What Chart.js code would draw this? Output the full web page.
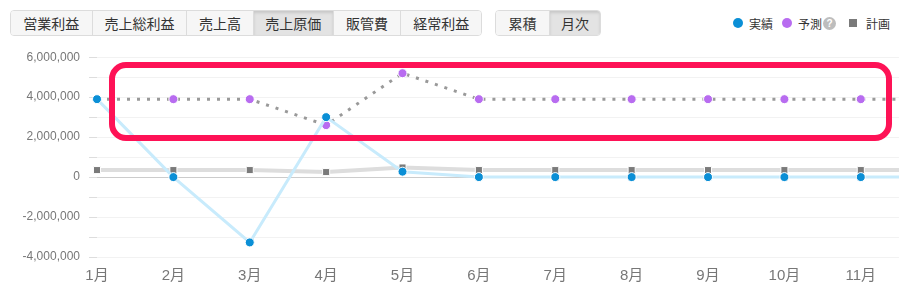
<!DOCTYPE html>
<html><head><meta charset="utf-8">
<script src="https://cdn.jsdelivr.net/npm/chart.js@4/dist/chart.umd.min.js"></script>
<style>
html,body{margin:0;padding:0;background:#fff;width:899px;height:286px;overflow:hidden;position:relative;font-family:"Noto Sans CJK JP","Liberation Sans",sans-serif;}
.grp{position:absolute;top:10px;height:26px;display:flex;border:1px solid #dcdcdc;border-radius:4px;overflow:hidden;box-sizing:border-box;}
.grp div{height:100%;line-height:24px;font-size:14px;color:#333;background:#f6f6f6;border-left:1px solid #dcdcdc;text-align:center;box-sizing:border-box;}
.grp div:first-child{border-left:none;}
.grp div.on{background:#e3e3e3;box-shadow:inset 0 2px 3px rgba(0,0,0,0.12);}
#legend{position:absolute;top:13px;left:733px;font-size:12px;color:#333;display:flex;align-items:center;height:20px;}
#legend .dot{width:10px;height:10px;border-radius:50%;display:inline-block;margin-right:6px;}
#legend .sq{width:8px;height:8px;display:inline-block;background:#7a7a7a;margin-right:9px;}
#legend .q{width:13px;height:13px;border-radius:50%;background:#bdbdbd;color:#fff;font-size:10px;line-height:13px;text-align:center;display:inline-block;margin:0 13px 0 1px;font-weight:bold;font-family:"Liberation Sans",sans-serif;}
#wrap{position:absolute;left:0;top:41px;width:963px;height:245px;}
#box{position:absolute;left:109px;top:62px;width:783px;height:79px;border:6px solid #fe1256;border-radius:17px;box-sizing:border-box;pointer-events:none;}
</style></head>
<body>
<div class="grp" style="left:10px;width:472px;">
  <div style="width:81px">営業利益</div><div style="width:95px">売上総利益</div><div style="width:67px">売上高</div><div class="on" style="width:80px">売上原価</div><div style="width:68px">販管費</div><div style="width:81px">経常利益</div>
</div>
<div class="grp" style="left:495px;width:106px;">
  <div style="width:54px">累積</div><div class="on" style="width:52px">月次</div>
</div>
<div id="legend">
  <span class="dot" style="background:#0b8fd6"></span><span style="margin-right:9px">実績</span>
  <span class="dot" style="background:#b86cf0"></span><span>予測</span><span class="q">?</span>
  <span class="sq"></span><span>計画</span>
</div>
<div id="wrap"><canvas id="c"></canvas></div>
<div id="box"></div>
<script>
const months = ['1月','2月','3月','4月','5月','6月','7月','8月','9月','10月','11月','12月'];
const actual = [3900000, 0, -3270000, 3000000, 270000, 0, 0, 0, 0, 0, 0, 0];
const forecast = [3900000, 3900000, 3900000, 2600000, 5200000, 3900000, 3900000, 3900000, 3900000, 3900000, 3900000, 3900000];
const forecastPointVisible = [false, true, true, true, true, true, true, true, true, true, true, true];
const plan = [350000, 350000, 350000, 250000, 480000, 350000, 350000, 350000, 350000, 350000, 350000, 350000];
const yMin = -4000000, yMax = 6000000, yStep = 1000000, yLabelStep = 2000000;

new Chart(document.getElementById('c'), {
  type: 'line',
  data: {
    labels: months,
    datasets: [
      {label:'実績', data: actual, order: 0, borderColor:'#c8ebfc', borderWidth:3, tension:0,
       pointRadius:4.5, pointBackgroundColor:'#0b8fd6', pointBorderColor:'#ffffff', pointBorderWidth:1},
      {label:'予測', data: forecast, order: 1, borderColor:'#999999', borderWidth:3, borderDash:[3,7], borderCapStyle:'butt', tension:0,
       pointRadius: forecastPointVisible.map(v => v ? 4.5 : 0), pointBackgroundColor:'#b86cf0', pointBorderColor:'#ffffff', pointBorderWidth:1},
      {label:'計画', data: plan, order: 2, borderColor:'#dddddd', borderWidth:4, tension:0,
       pointStyle:'rect', pointRadius:5, pointBackgroundColor:'#7a7a7a', pointBorderColor:'#ffffff', pointBorderWidth:1}
    ]
  },
  options: {
    responsive:true, maintainAspectRatio:false, animation:false,
    layout:{padding:{top:8, right:20, left:0, bottom:0}},
    plugins:{legend:{display:false}, tooltip:{enabled:false}},
    scales:{
      x:{offset:false, grid:{display:false, drawTicks:false}, border:{display:false},
         afterFit: s => { s.height = 29; },
         ticks:{color:'#777', font:{size:15, family:'"Liberation Sans","Noto Sans CJK JP",sans-serif'}, padding:10, maxRotation:0, autoSkip:false}},
      y:{min:yMin, max:yMax, border:{display:false},
         afterFit: s => { s.width = 97; },
         grid:{color: c => c.tick && c.tick.value === 0 ? '#cccccc' : '#f2f2f2', tickColor:'#dddddd', tickLength:8, lineWidth:1},
         ticks:{stepSize:yStep, padding:9, color:'#777',
           font:{size:12, family:'"Liberation Sans",sans-serif'},
           callback: v => (v % yLabelStep === 0) ? v.toLocaleString('en-US') : ''}}
    }
  }
});
</script>
</body></html>
